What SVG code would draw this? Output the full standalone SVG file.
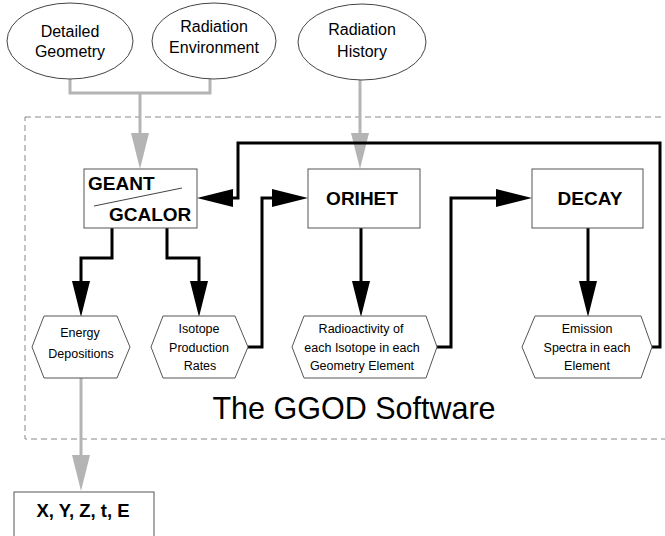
<svg xmlns="http://www.w3.org/2000/svg" width="665" height="536" viewBox="0 0 665 536">
<style>
text{font-family:"Liberation Sans",Arial,Helvetica,sans-serif;fill:#000}
.el{fill:#fff;stroke:#444;stroke-width:1}
.bx{fill:#fff;stroke:#555;stroke-width:1}
.hx{fill:#fff;stroke:#555;stroke-width:1}
.t16{font-size:16px}
.b19{font-size:19px;font-weight:bold}
.t12{font-size:12.5px}
.blk{fill:none;stroke:#000;stroke-width:3}
.gry{fill:none;stroke:#b4b4b4;stroke-width:3}
</style>
<defs>
<marker id="ab" viewBox="0 0 36 18" markerWidth="36" markerHeight="18" refX="28" refY="9" orient="auto" markerUnits="userSpaceOnUse"><path d="M0,0 L36,9 L0,18 Z" fill="#000"/></marker>
<marker id="ag" viewBox="0 0 36 18" markerWidth="36" markerHeight="18" refX="28" refY="9" orient="auto" markerUnits="userSpaceOnUse"><path d="M0,0 L36,9 L0,18 Z" fill="#b4b4b4"/></marker>
</defs>
<rect width="665" height="536" fill="#fff"/>
<g id="ggod-boundary">
<rect x="25" y="117" width="660" height="322" fill="none" stroke="#888" stroke-width="1" stroke-dasharray="6,4"/>
<text x="354" y="419" font-size="30.5" text-anchor="middle">The GGOD Software</text>
</g>
<g id="connectors">
<path class="gry" d="M70,79 V93 H210 V79"/>
<path class="gry" d="M140,93 V161" marker-end="url(#ag)"/>
<path class="gry" d="M360,80 V161" marker-end="url(#ag)"/>
<path class="gry" d="M81,378 V483" marker-end="url(#ag)"/>
<path class="blk" d="M112,228 V258 H81 V309" marker-end="url(#ab)"/>
<path class="blk" d="M167,228 V258 H199 V309" marker-end="url(#ab)"/>
<path class="blk" d="M361,228 V309" marker-end="url(#ab)"/>
<path class="blk" d="M588,228 V309" marker-end="url(#ab)"/>
<path class="blk" d="M248,347 H262 V198 H300" marker-end="url(#ab)"/>
<path class="blk" d="M437,347 H451 V198 H524" marker-end="url(#ab)"/>
<path class="blk" d="M652,347 H660 V143 H238 V198 H205" marker-end="url(#ab)"/>
</g>
<g id="detailed-geometry">
<ellipse class="el" cx="70" cy="41" rx="63" ry="38"/>
<text class="t16" x="70" y="37" text-anchor="middle">Detailed</text>
<text class="t16" x="70" y="57" text-anchor="middle">Geometry</text>
</g>
<g id="radiation-environment">
<ellipse class="el" cx="214" cy="41" rx="62" ry="38"/>
<text class="t16" x="214" y="32" text-anchor="middle">Radiation</text>
<text class="t16" x="214" y="53" text-anchor="middle">Environment</text>
</g>
<g id="radiation-history">
<ellipse class="el" cx="362" cy="42" rx="64" ry="38"/>
<text class="t16" x="362" y="35" text-anchor="middle">Radiation</text>
<text class="t16" x="362" y="57" text-anchor="middle">History</text>
</g>
<g id="geant-gcalor">
<rect class="bx" x="84" y="169" width="113" height="59"/>
<text class="b19" x="88" y="190">GEANT</text>
<line x1="94" y1="206" x2="182" y2="188" stroke="#444" stroke-width="1"/>
<text class="b19" x="109" y="221">GCALOR</text>
</g>
<g id="orihet">
<rect class="bx" x="308" y="169" width="112" height="59"/>
<text class="b19" x="362" y="205" text-anchor="middle">ORIHET</text>
</g>
<g id="decay">
<rect class="bx" x="532" y="169" width="111" height="59"/>
<text class="b19" x="590" y="205" text-anchor="middle">DECAY</text>
</g>
<g id="energy-depositions">
<path class="hx" d="M32,347 L44,316 L117,316 L130,347 L117,378 L44,378 Z"/>
<text class="t12" x="80" y="337" text-anchor="middle">Energy</text>
<text class="t12" x="81" y="358" text-anchor="middle">Depositions</text>
</g>
<g id="isotope-production-rates">
<path class="hx" d="M151,347 L163,316 L235,316 L248,347 L235,378 L163,378 Z"/>
<text class="t12" x="199" y="333" text-anchor="middle">Isotope</text>
<text class="t12" x="199" y="352" text-anchor="middle">Production</text>
<text class="t12" x="200" y="370" text-anchor="middle">Rates</text>
</g>
<g id="radioactivity">
<path class="hx" d="M292,347 L304,316 L426,316 L437,347 L426,378 L304,378 Z"/>
<text class="t12" x="361" y="333" text-anchor="middle">Radioactivity of</text>
<text class="t12" x="362" y="352" text-anchor="middle">each Isotope in each</text>
<text class="t12" x="362" y="370" text-anchor="middle">Geometry Element</text>
</g>
<g id="emission-spectra">
<path class="hx" d="M522,347 L535,316 L641,316 L652,347 L641,378 L535,378 Z"/>
<text class="t12" x="587" y="333" text-anchor="middle">Emission</text>
<text class="t12" x="587" y="352" text-anchor="middle">Spectra in each</text>
<text class="t12" x="587" y="370" text-anchor="middle">Element</text>
</g>
<g id="xyzte">
<rect class="bx" x="14" y="492" width="140" height="60"/>
<text x="83" y="517" font-size="18.5" font-weight="bold" text-anchor="middle">X, Y, Z, t, E</text>
</g>
</svg>
